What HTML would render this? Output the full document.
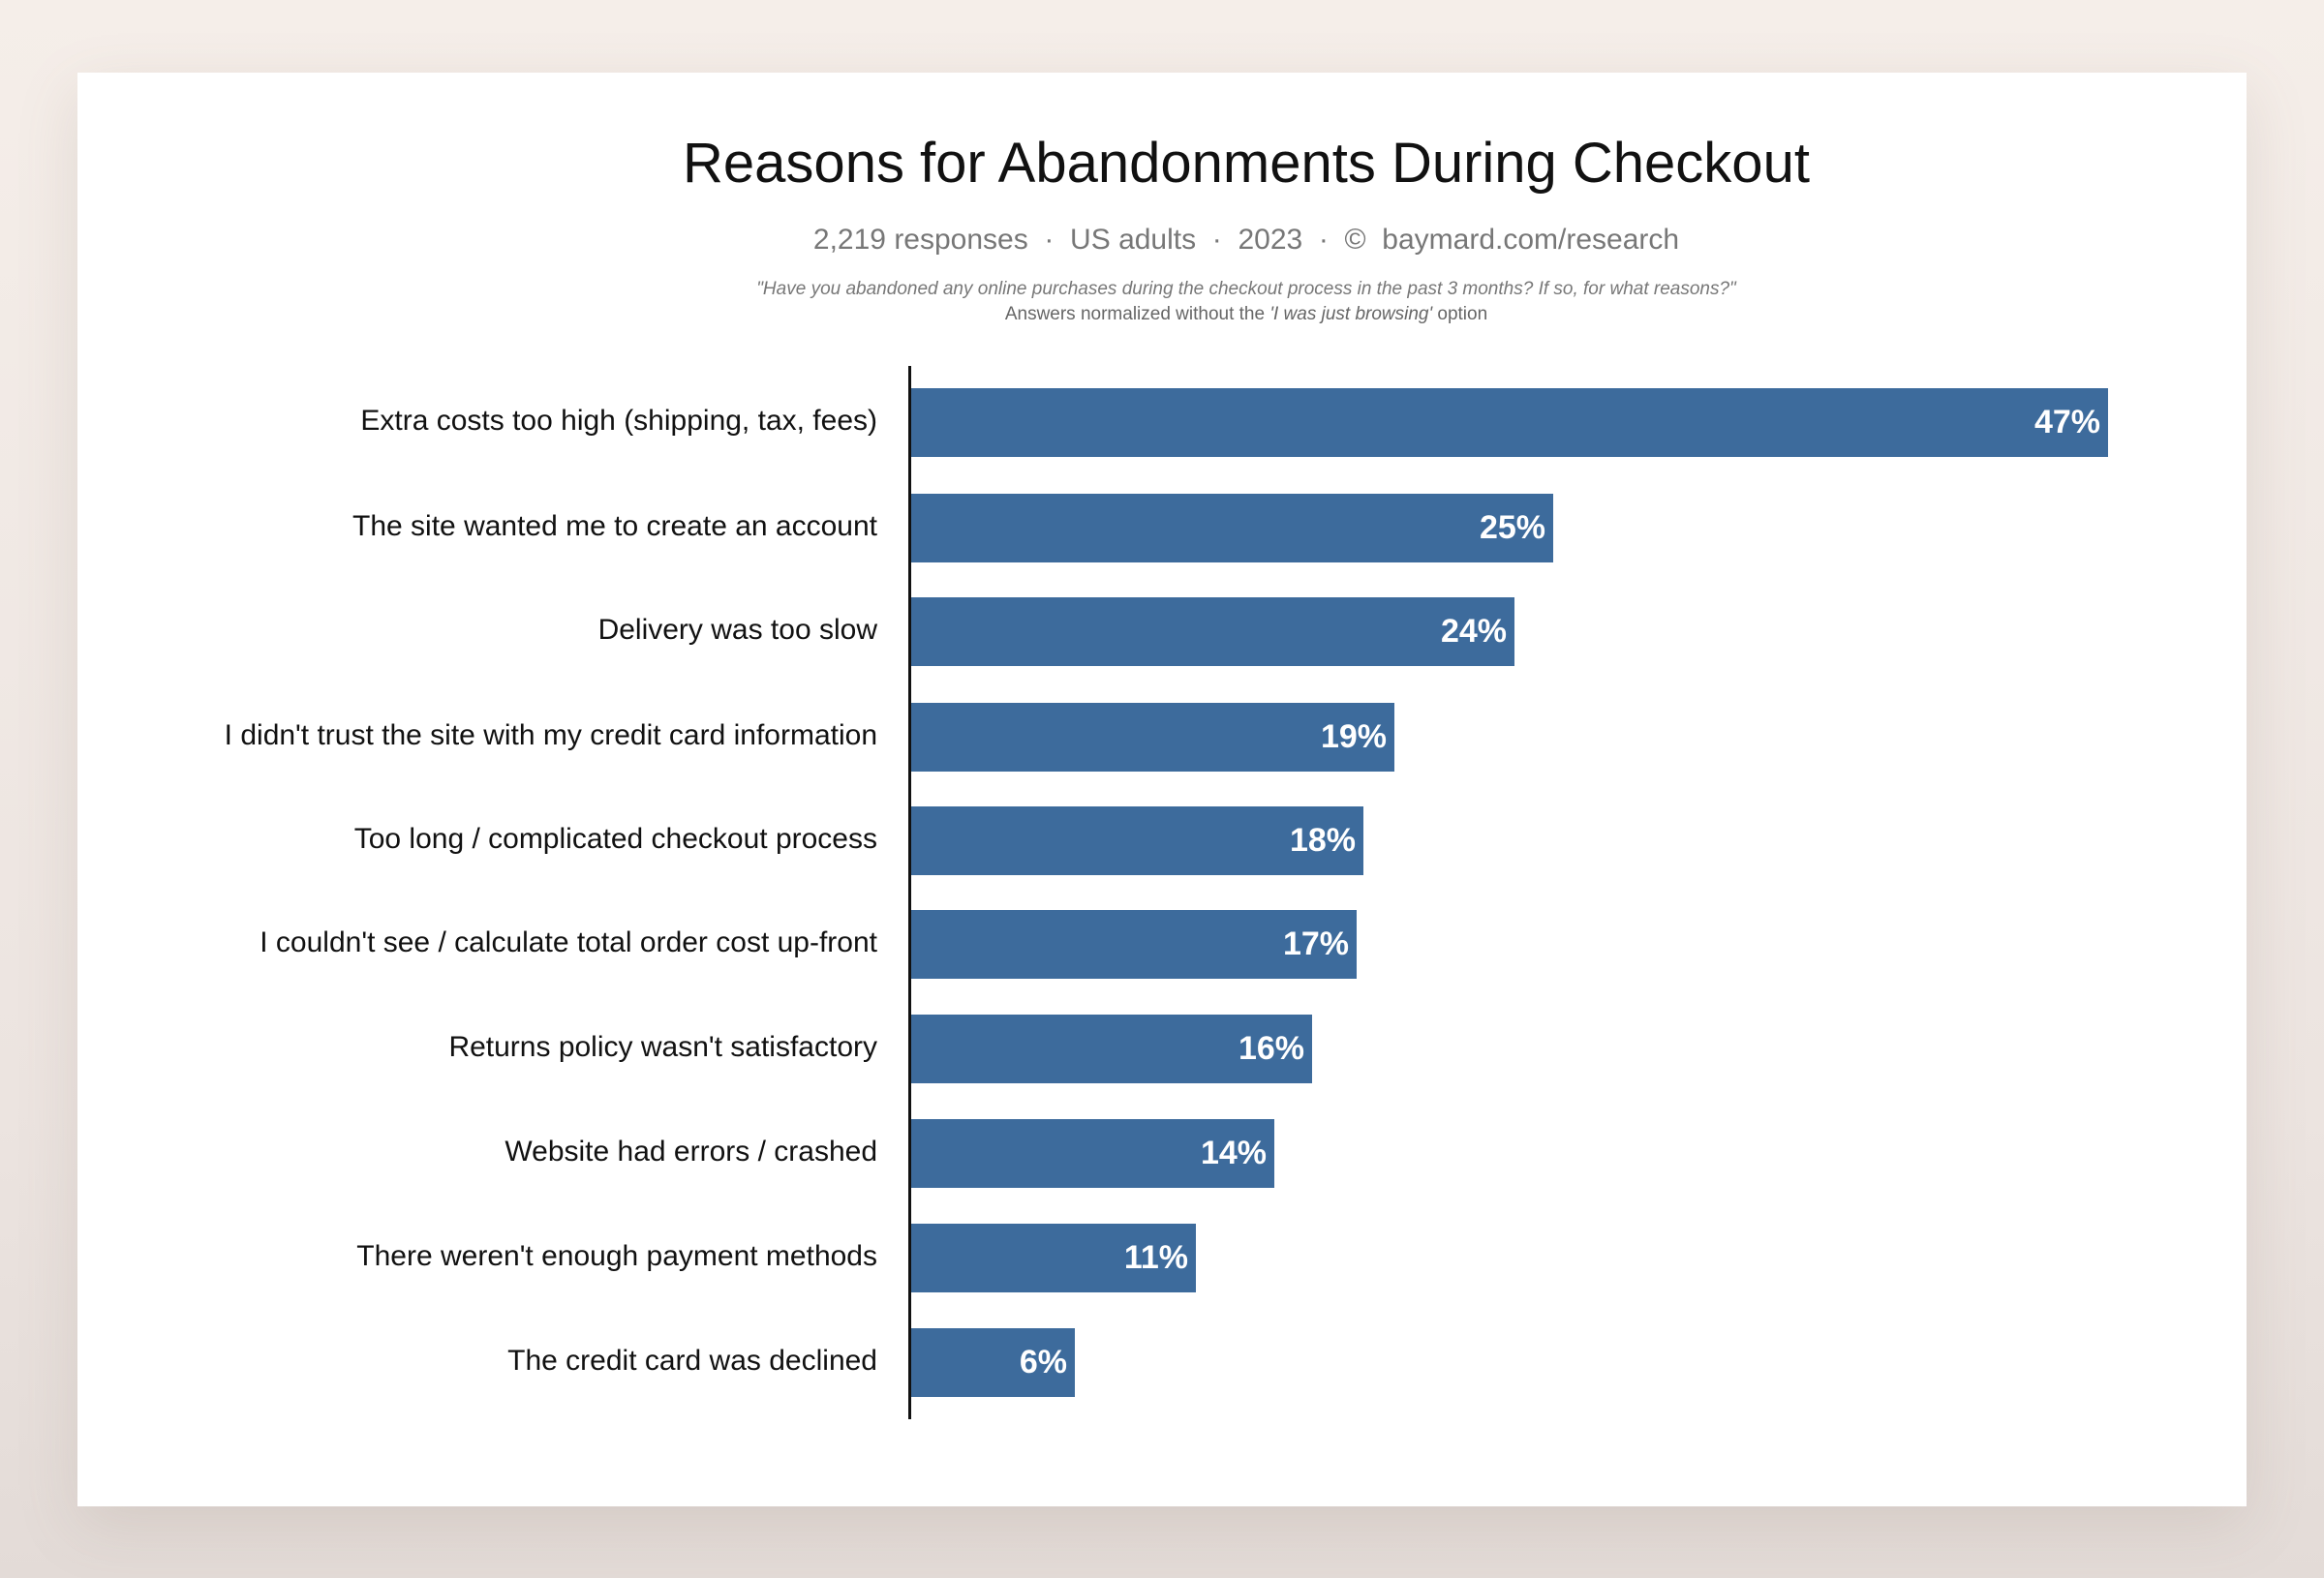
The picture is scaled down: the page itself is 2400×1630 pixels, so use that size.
<!DOCTYPE html>
<html><head><meta charset="utf-8"><style>
html,body{margin:0;padding:0}
body{width:2400px;height:1630px;background:linear-gradient(#f5eee9,#ece4e0 70%,#e3dbd7);position:relative;overflow:hidden;font-family:"Liberation Sans",Arial,sans-serif}
.card{position:absolute;left:80px;top:75px;width:2240px;height:1481px;background:#fff;box-shadow:0 20px 60px rgba(120,100,90,.15)}
.t{position:absolute;left:287px;width:2000px;text-align:center;white-space:nowrap}
.lab{position:absolute;right:1494px;font-size:30px;color:#111;white-space:nowrap;line-height:72px;height:72px}
.bar{position:absolute;left:941px;height:71px;background:#3d6b9c;color:#fff;font-weight:bold;font-size:34px;line-height:71px;text-align:right;box-sizing:border-box;padding-right:8px}
</style></head><body>
<div class="card"></div>
<div class="t" style="top:134px;font-size:58px;color:#111;line-height:70px">Reasons for Abandonments During Checkout</div>
<div class="t" style="top:230px;font-size:30px;color:#777;line-height:36px">2,219 responses &nbsp;·&nbsp; US adults &nbsp;·&nbsp; 2023 &nbsp;·&nbsp; © &nbsp;baymard.com/research</div>
<div class="t" style="top:288px;font-size:19px;color:#777;font-style:italic;line-height:22px">"Have you abandoned any online purchases during the checkout process in the past 3 months? If so, for what reasons?"</div>
<div class="t" style="top:314px;font-size:19px;color:#666;line-height:22px">Answers normalized without the <i>'I was just browsing'</i> option</div>
<div style="position:absolute;left:938px;top:378px;width:3px;height:1088px;background:#111"></div>

<div class="lab" style="top:399px">Extra costs too high (shipping, tax, fees)</div>
<div class="bar" style="top:401px;width:1236px">47%</div>
<div class="lab" style="top:508px">The site wanted me to create an account</div>
<div class="bar" style="top:510px;width:663px">25%</div>
<div class="lab" style="top:615px">Delivery was too slow</div>
<div class="bar" style="top:617px;width:623px">24%</div>
<div class="lab" style="top:724px">I didn't trust the site with my credit card information</div>
<div class="bar" style="top:726px;width:499px">19%</div>
<div class="lab" style="top:831px">Too long / complicated checkout process</div>
<div class="bar" style="top:833px;width:467px">18%</div>
<div class="lab" style="top:938px">I couldn't see / calculate total order cost up-front</div>
<div class="bar" style="top:940px;width:460px">17%</div>
<div class="lab" style="top:1046px">Returns policy wasn't satisfactory</div>
<div class="bar" style="top:1048px;width:414px">16%</div>
<div class="lab" style="top:1154px">Website had errors / crashed</div>
<div class="bar" style="top:1156px;width:375px">14%</div>
<div class="lab" style="top:1262px">There weren't enough payment methods</div>
<div class="bar" style="top:1264px;width:294px">11%</div>
<div class="lab" style="top:1370px">The credit card was declined</div>
<div class="bar" style="top:1372px;width:169px">6%</div>
</body></html>
